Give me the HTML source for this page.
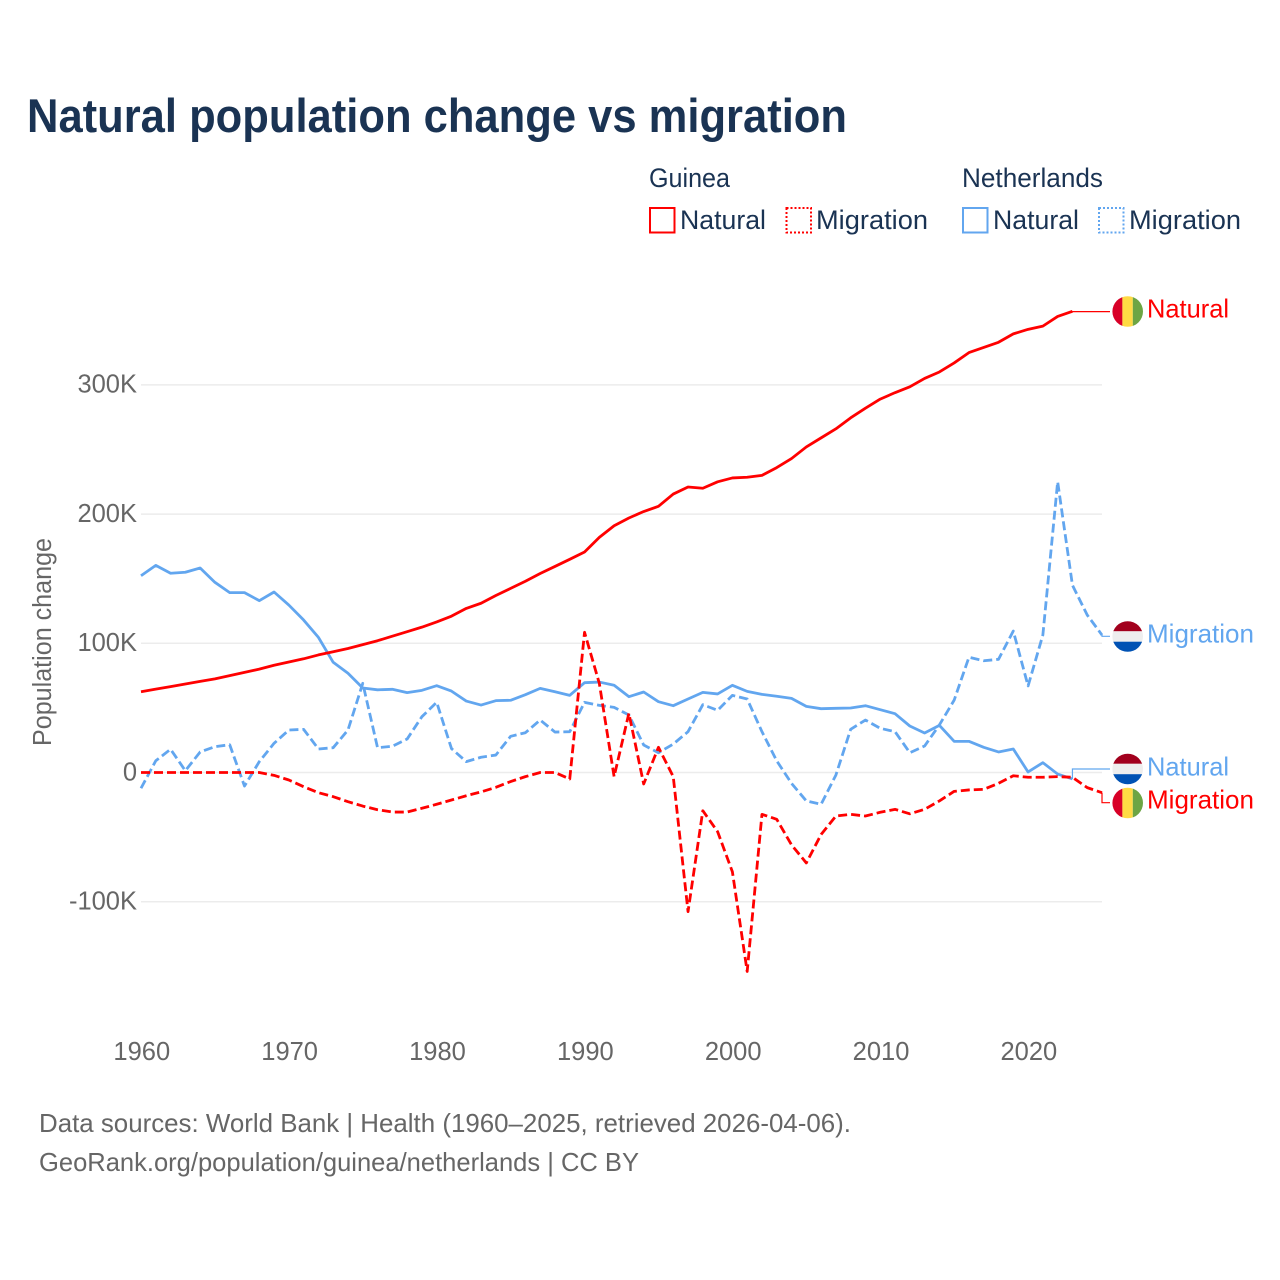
<!DOCTYPE html>
<html lang="en">
<head>
<meta charset="utf-8">
<title>Natural population change vs migration</title>
<style>
html,body{margin:0;padding:0;background:#fff;width:1280px;height:1280px;overflow:hidden}
svg{display:block}
text{font-family:"Liberation Sans","DejaVu Sans",sans-serif}
</style>
</head>
<body>
<svg id="chart" xmlns="http://www.w3.org/2000/svg" width="1280" height="1280" viewBox="0 0 1280 1280">
  <rect x="0" y="0" width="1280" height="1280" fill="#fff"/>
  <text x="27" y="132" font-size="47" font-weight="700" fill="#1a3353" textLength="820" lengthAdjust="spacingAndGlyphs">Natural population change vs migration</text>

  <g fill="#1a3353" font-size="26.5">
    <text x="649" y="187" textLength="81" lengthAdjust="spacingAndGlyphs">Guinea</text>
    <text x="962" y="187" textLength="141" lengthAdjust="spacingAndGlyphs">Netherlands</text>
    <rect x="650" y="208" width="24.5" height="24.5" fill="none" stroke="#ff0000" stroke-width="2"/>
    <text x="680" y="229" textLength="86" lengthAdjust="spacingAndGlyphs">Natural</text>
    <rect x="786.5" y="208" width="24.5" height="24.5" fill="none" stroke="#ff0000" stroke-width="2" stroke-dasharray="2 2"/>
    <text x="816" y="229" textLength="112" lengthAdjust="spacingAndGlyphs">Migration</text>
    <rect x="963" y="208" width="24.5" height="24.5" fill="none" stroke="#62a6ef" stroke-width="2"/>
    <text x="993" y="229" textLength="86" lengthAdjust="spacingAndGlyphs">Natural</text>
    <rect x="1099" y="208" width="24.5" height="24.5" fill="none" stroke="#62a6ef" stroke-width="2" stroke-dasharray="2 2"/>
    <text x="1129" y="229" textLength="112" lengthAdjust="spacingAndGlyphs">Migration</text>
  </g>

  <text transform="translate(51,746) rotate(-90)" font-size="25.5" fill="#666" textLength="208" lengthAdjust="spacingAndGlyphs">Population change</text>

  <g id="grid"></g>
  <g id="y-ticks" fill="#666" font-size="25.5" text-anchor="end"></g>
  <g id="x-ticks" fill="#666" font-size="25.5" text-anchor="middle"></g>
  <g id="series"></g>

  <defs>
    <clipPath id="clip-gn-natural"><circle cx="1127.7" cy="311.5" r="15.3"/></clipPath>
    <clipPath id="clip-nl-migration"><circle cx="1127.7" cy="636.5" r="15.3"/></clipPath>
    <clipPath id="clip-nl-natural"><circle cx="1127.7" cy="769" r="15.3"/></clipPath>
    <clipPath id="clip-gn-migration"><circle cx="1127.7" cy="803" r="15.3"/></clipPath>
  </defs>

  <g clip-path="url(#clip-gn-natural)">
    <rect x="1112" y="295" width="10.4" height="33" fill="#d80027"/>
    <rect x="1122.4" y="295" width="10.4" height="33" fill="#ffda44"/>
    <rect x="1132.8" y="295" width="11" height="33" fill="#6da544"/>
  </g>
  <g clip-path="url(#clip-nl-migration)">
    <rect x="1112" y="620" width="32" height="11.3" fill="#a2001d"/>
    <rect x="1112" y="631.3" width="32" height="10.4" fill="#eeeeee"/>
    <rect x="1112" y="641.7" width="32" height="11.3" fill="#0052b4"/>
  </g>
  <g clip-path="url(#clip-nl-natural)">
    <rect x="1112" y="752.5" width="32" height="11.3" fill="#a2001d"/>
    <rect x="1112" y="763.8" width="32" height="10.4" fill="#eeeeee"/>
    <rect x="1112" y="774.2" width="32" height="11.3" fill="#0052b4"/>
  </g>
  <g clip-path="url(#clip-gn-migration)">
    <rect x="1112" y="786" width="10.4" height="34" fill="#d80027"/>
    <rect x="1122.4" y="786" width="10.4" height="34" fill="#ffda44"/>
    <rect x="1132.8" y="786" width="11" height="34" fill="#6da544"/>
  </g>

  <text x="1147" y="317.5" font-size="26" fill="#ff0000" textLength="82" lengthAdjust="spacingAndGlyphs">Natural</text>
  <text x="1147" y="642.5" font-size="26" fill="#62a6ef" textLength="107" lengthAdjust="spacingAndGlyphs">Migration</text>
  <text x="1147" y="775.5" font-size="26" fill="#62a6ef" textLength="82" lengthAdjust="spacingAndGlyphs">Natural</text>
  <text x="1147" y="808.5" font-size="26" fill="#ff0000" textLength="107" lengthAdjust="spacingAndGlyphs">Migration</text>

  <text x="39" y="1132" font-size="26" fill="#666" textLength="812" lengthAdjust="spacingAndGlyphs">Data sources: World Bank | Health (1960–2025, retrieved 2026-04-06).</text>
  <text x="39" y="1171" font-size="26" fill="#666" textLength="600" lengthAdjust="spacingAndGlyphs">GeoRank.org/population/guinea/netherlands | CC BY</text>
</svg>

<script>
// Values are in thousands of people, starting in 1960.
const startYear = 1960;
const lastYear = 2025;
const xTickYears = [1960, 1970, 1980, 1990, 2000, 2010, 2020];
const yTickValues = [-100, 0, 100, 200, 300];
const yTickLabels = ['-100K', '0', '100K', '200K', '300K'];

const guineaNatural = [62.5,64.5,66.5,68.5,70.5,72.5,75,77.5,80,83,85.5,88,91,93.5,96,99,102,105.5,109,112.5,116.5,121,127,131,137,142.5,148,154,159.5,165,170.7,182,191,197,202,206,215.5,221,220,225,228,228.5,230,236,243,252,259,266,274.5,282,289,294,298.5,305,310,317,325,329,333,339.5,343,345.5,353,357];
const guineaMigration = [0,0,0,0,0,0,0,0,0,-2.2,-5.8,-11,-15.6,-18.7,-22.6,-26,-28.8,-30.6,-30.6,-27.7,-24.6,-21.3,-18,-15,-11.5,-7,-3.2,0,0,-5,108.5,69,-3.2,45.8,-8.9,19.5,-3.2,-107.7,-29.6,-45.8,-76.8,-154,-32.4,-36.2,-56,-70,-48,-33.7,-32.4,-33.7,-30.8,-28.5,-32,-28.5,-22,-14.6,-13.5,-13,-8.4,-2.5,-3.7,-3.7,-3.2,-3.7,-11.7,-15.6];
const netherlandsNatural = [152.3,160.3,154.2,155,158.3,147.2,139.2,139.2,133,139.7,129.6,118,104.6,85.3,76.8,65.4,64,64.4,61.8,63.6,67.2,63,55.3,52.2,55.6,55.9,60.2,65.1,62.5,59.7,69.5,70,67.5,58.7,62.3,54.8,51.7,56.9,62,60.8,67.5,62.8,60.5,59,57.4,51.2,49.4,49.7,49.9,51.7,48.6,45.5,36,30.6,36.5,24.1,24.1,19.5,15.9,18.2,0.4,7.6,-1.2,-5];
const netherlandsMigration = [-12.2,9.1,18,1.4,15.9,20,21.5,-10.5,8.4,22.6,32.9,33.4,18.2,19.2,32.9,69,19.2,20.3,25.9,43.2,54.3,18.5,8.4,11.8,13.5,28,30.8,40.6,31.3,31.6,54.3,52,50.4,44.5,21.3,15.3,22,31.6,52.5,48.1,59.7,56.9,31.6,9,-8.4,-22,-24.6,-2,33.4,40.6,34.2,31.6,15.3,20.5,36.8,56,89.2,86.5,87.6,109.5,67,106.4,225,145,121.9,106.4];

function xScale(year) { return 141 + (year - startYear) * (1102 - 141) / (lastYear - startYear); }
function yScale(value) { return 772.5 - value * 1.292; }

const NS = 'http://www.w3.org/2000/svg';

function pathFrom(values) {
  return values.map(function (v, i) {
    return (i ? 'L' : 'M') + xScale(startYear + i).toFixed(2) + ' ' + yScale(v).toFixed(2);
  }).join('');
}

const gridGroup = document.getElementById('grid');
const yTickGroup = document.getElementById('y-ticks');
yTickValues.forEach(function (v, i) {
  const line = document.createElementNS(NS, 'line');
  
  
  line.setAttribute('x1', xScale(startYear));
  line.setAttribute('x2', xScale(lastYear));
  line.setAttribute('y1', yScale(v));
  line.setAttribute('y2', yScale(v));
  line.setAttribute('stroke', '#ececec');
  line.setAttribute('stroke-width', '1.5');
  gridGroup.appendChild(line);

  const label = document.createElementNS(NS, 'text');
  
  
  label.setAttribute('x', 137);
  label.setAttribute('y', yScale(v) + 7.8);
  label.textContent = yTickLabels[i];
  yTickGroup.appendChild(label);
});

const xTickGroup = document.getElementById('x-ticks');
xTickYears.forEach(function (year) {
  const label = document.createElementNS(NS, 'text');
  
  
  label.setAttribute('x', xScale(year) + 0.8);
  label.setAttribute('y', 1060);
  label.textContent = String(year);
  xTickGroup.appendChild(label);
});

const seriesGroup = document.getElementById('series');

function addLine(values, color, dashed, name) {
  const p = document.createElementNS(NS, 'path');
  
  
  p.setAttribute('d', pathFrom(values));
  p.setAttribute('fill', 'none');
  p.setAttribute('stroke', color);
  p.setAttribute('stroke-width', '2.8');
  p.setAttribute('stroke-linejoin', 'round');
  if (dashed) { p.setAttribute('stroke-dasharray', '9 4'); }
  seriesGroup.appendChild(p);
}

function addConnector(values, labelY, color, name) {
  const i = values.length - 1;
  const ex = xScale(startYear + i);
  const ey = yScale(values[i]);
  const c = document.createElementNS(NS, 'path');
  
  
  c.setAttribute('d', 'M' + ex + ' ' + ey + 'V' + labelY + 'H1110');
  c.setAttribute('fill', 'none');
  c.setAttribute('stroke', color);
  c.setAttribute('stroke-width', '1.2');
  seriesGroup.appendChild(c);
}

addConnector(guineaNatural, 311.6, '#ff0000', 'connector-guinea-natural');
addConnector(guineaMigration, 802.7, '#ff0000', 'connector-guinea-migration');
addConnector(netherlandsNatural, 769, '#62a6ef', 'connector-netherlands-natural');
addConnector(netherlandsMigration, 636.3, '#62a6ef', 'connector-netherlands-migration');

addLine(netherlandsMigration, '#62a6ef', true, 'line-netherlands-migration');
addLine(netherlandsNatural, '#62a6ef', false, 'line-netherlands-natural');
addLine(guineaMigration, '#ff0000', true, 'line-guinea-migration');
addLine(guineaNatural, '#ff0000', false, 'line-guinea-natural');
</script>
</body>
</html>
